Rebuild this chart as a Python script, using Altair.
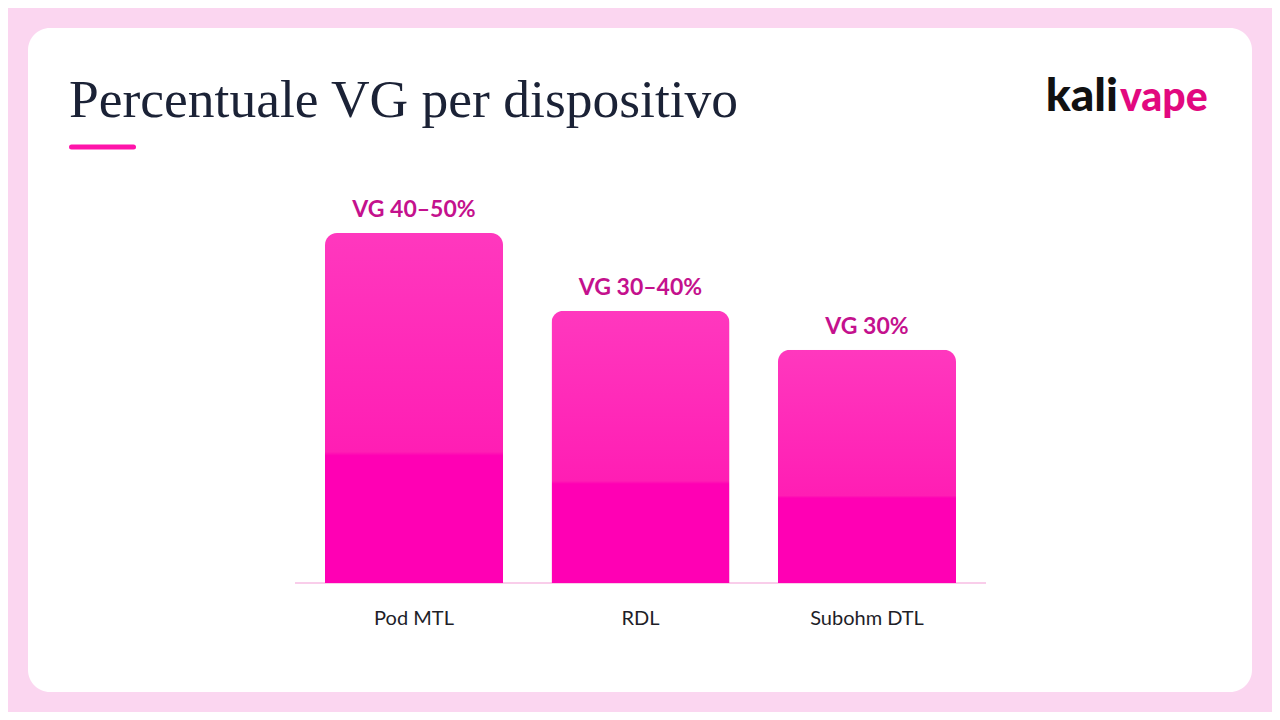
import altair as alt
import pandas as pd

# ---- data ----
categories = ["Pod MTL", "RDL", "Subohm DTL"]
vg_values = [45, 35, 30]
value_labels = ["VG 40–50%", "VG 30–40%", "VG 30%"]
title_text = "Percentuale VG per dispositivo"

bars_df = pd.DataFrame({"device": categories, "vg": vg_values, "label": value_labels})
one = pd.DataFrame({"k": [0]})

W, H = 1264, 704

x_scale = alt.Scale(domain=categories, range=[317, 948], paddingInner=0.214, paddingOuter=0)
y_scale = alt.Scale(domain=[0, 45], range=[575, 225], nice=False, zero=True)

card = alt.Chart(one).mark_rect(color="#ffffff", cornerRadius=22).encode(
    x=alt.value(20), x2=alt.value(1244), y=alt.value(20), y2=alt.value(684)
)

baseline = alt.Chart(one).mark_rule(color="#f9cdea", strokeWidth=2).encode(
    x=alt.value(287), x2=alt.value(978), y=alt.value(575)
)

bar_gradient = alt.Gradient(
    gradient="linear",
    stops=[
        alt.GradientStop(color="#ff38be", offset=0),
        alt.GradientStop(color="#ff1eb4", offset=0.625),
        alt.GradientStop(color="#ff00b4", offset=0.636),
        alt.GradientStop(color="#ff00b4", offset=1),
    ],
    x1=0, x2=0, y1=0, y2=1,
)

bars = alt.Chart(bars_df).mark_bar(
    color=bar_gradient, cornerRadiusTopLeft=12, cornerRadiusTopRight=12
).encode(
    x=alt.X("device:N", scale=x_scale, axis=None, sort=categories),
    y=alt.Y("vg:Q", scale=y_scale, axis=None),
)

vlabels = alt.Chart(bars_df).mark_text(
    font="Lato", fontSize=23, fontWeight="bold", color="#c4118d",
    baseline="alphabetic", dy=-16, align="center"
).encode(
    x=alt.X("device:N", scale=x_scale, axis=None, sort=categories),
    y=alt.Y("vg:Q", scale=y_scale, axis=None),
    text="label:N",
)

clabels = alt.Chart(bars_df).mark_text(
    font="Lato", fontSize=20, color="#1e1e28", baseline="alphabetic", align="center"
).encode(
    x=alt.X("device:N", scale=x_scale, axis=None, sort=categories),
    y=alt.value(617),
    text="device:N",
)

title = alt.Chart(one).mark_text(
    text=title_text, font="Liberation Serif", fontSize=53.5, color="#1b2236",
    align="left", baseline="alphabetic"
).encode(x=alt.value(61), y=alt.value(109))

underline = alt.Chart(one).mark_rule(color="#ff14aa", strokeWidth=5, strokeCap="round").encode(
    x=alt.value(63.5), x2=alt.value(125.5), y=alt.value(139)
)

logo_a = alt.Chart(one).mark_text(
    text="kali", font="Lato", fontSize=46, fontWeight=900, color="#111111",
    align="right", baseline="alphabetic"
).encode(x=alt.value(1110), y=alt.value(103))

logo_b = alt.Chart(one).mark_text(
    text="vape", font="Lato", fontSize=41, fontWeight=900, color="#e2087f",
    align="left", baseline="alphabetic"
).encode(x=alt.value(1112), y=alt.value(103))

chart = alt.layer(
    card, baseline, bars, vlabels, clabels, title, underline, logo_a, logo_b
).properties(
    width=W, height=H, background="#fbd6f0", padding=0,
    autosize=alt.AutoSizeParams(type="none"),
).configure_view(stroke=None)

chart.save("out.html", embed_options={"renderer": "svg", "actions": False})
